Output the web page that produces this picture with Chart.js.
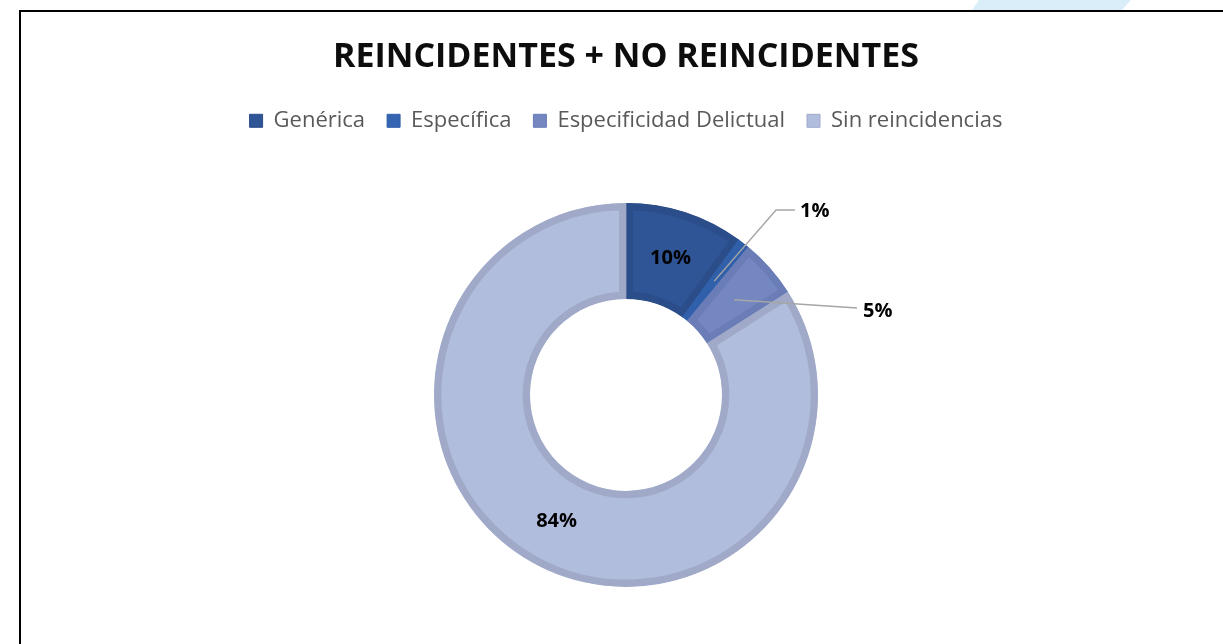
<!DOCTYPE html>
<html lang="es">
<head>
<meta charset="utf-8">
<title>Reincidentes + No reincidentes</title>
<script src="https://cdn.jsdelivr.net/npm/chart.js@4.4.1/dist/chart.umd.min.js"></script>
<style>
    html, body { margin: 0; padding: 0; background: #fff; overflow: hidden; }
    #wrap { position: relative; width: 1223px; height: 644px; overflow: hidden; }
    #box { position: absolute; left: 0; top: 0; width: 1223px; height: 670px; }
    .frame {
        position: absolute; left: 19px; top: 10px;
        width: 1300px; height: 700px;
        border: 2px solid #000; pointer-events: none;
    }
    .stripe {
        position: absolute; left: 972px; top: 0; width: 160px; height: 10px;
        background: #daeefa;
        clip-path: polygon(7px 0, 159px 0, 150px 10px, 0 10px);
    }
</style>
</head>
<body>
<div id="wrap">
    <div class="stripe"></div>
    <div id="box"><canvas id="chart1"></canvas></div>
    <div class="frame"></div>
</div>
<script>
// Datos
const categories = ['Genérica', 'Específica', 'Especificidad Delictual', 'Sin reincidencias'];
const percentages = [10, 1, 5, 84];

const fillColors = ['#2f5597', '#3564b2', '#7487c1', '#b1bddd'];
const rimColors = ['#2b4d89', '#3160ab', '#6a7db7', '#a0aac8'];

// Etiquetas de porcentaje; las pequeñas van fuera con línea guía
const pieLabels = {
    id: 'pieLabels',
    afterDatasetsDraw(chart, args, opts) {
        const ctx = chart.ctx;
        const meta = chart.getDatasetMeta(0);
        ctx.save();
        ctx.font = 'bold 20px "Open Sans"';
        ctx.fillStyle = '#000';
        ctx.textBaseline = 'middle';
        meta.data.forEach((arc, i) => {
            const text = percentages[i] + '%';
            const pos = arc.tooltipPosition();
            const out = opts.outside[i];
            if (!out) {
                ctx.textAlign = 'center';
                ctx.fillText(text, pos.x, pos.y);
                return;
            }
            const cx = arc.x, cy = arc.y;
            ctx.strokeStyle = '#a6a6a6';
            ctx.lineWidth = 1.5;
            ctx.beginPath();
            ctx.moveTo(pos.x, pos.y);
            out.path.forEach(p => ctx.lineTo(cx + p[0], cy + p[1]));
            ctx.stroke();
            ctx.textAlign = 'left';
            ctx.fillText(text, cx + out.label[0], cy + out.label[1]);
        });
        ctx.restore();
    }
};

const createChart = (ctx) => {
    new Chart(ctx, {
        type: 'doughnut',
        data: {
            labels: categories,
            datasets: [{
                data: percentages,
                backgroundColor: fillColors,
                borderColor: rimColors,
                borderWidth: 7,
                borderAlign: 'inner',
                hoverOffset: 0
            }]
        },
        options: {
            responsive: true,
            maintainAspectRatio: false,
            animation: false,
            radius: 192,
            cutout: '50%',
            rotation: 0,
            layout: { padding: { top: 22, left: 29, right: 0, bottom: 22 } },
            plugins: {
                title: {
                    display: true,
                    text: 'REINCIDENTES + NO REINCIDENTES',
                    color: '#0d0d0d',
                    font: { family: '"Open Sans"', size: 34, weight: 'bold' },
                    padding: { top: 15, bottom: 10 }
                },
                legend: {
                    position: 'top',
                    labels: {
                        color: '#595959',
                        font: { family: '"Open Sans"', size: 22 },
                        boxWidth: 13,
                        boxHeight: 13,
                        padding: 22,
                        generateLabels: (chart) => {
                            const items = Chart.overrides.doughnut.plugins.legend.labels.generateLabels(chart);
                            return items.map((it, i) => Object.assign(it, {
                                fillStyle: fillColors[i],
                                strokeStyle: rimColors[i],
                                lineWidth: 1
                            }));
                        }
                    }
                },
                tooltip: { enabled: false },
                pieLabels: {
                    outside: {
                        1: { path: [[150, -185], [169, -185]], label: [174, -184] },
                        2: { path: [[231, -87]], label: [237, -84] }
                    }
                }
            }
        },
        plugins: [pieLabels]
    });
};

window.onload = () => {
    const ctx1 = document.getElementById('chart1').getContext('2d');
    createChart(ctx1);
};
</script>
</body>
</html>
